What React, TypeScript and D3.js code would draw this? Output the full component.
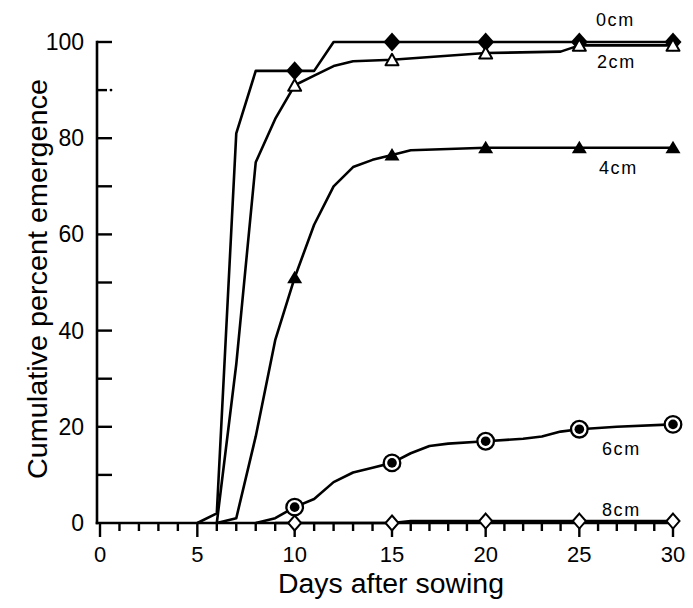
import React from "react";
import * as d3 from "d3";

// Cumulative emergence (%) by days after sowing, for five sowing depths.
const DAYS_0CM = [5, 6, 7, 8, 10, 11, 12, 15, 20, 25, 30];
const PCT_0CM = [0, 2, 81, 94, 94, 94, 100, 100, 100, 100, 100];

const DAYS_2CM = [6, 7, 8, 9, 10, 11, 12, 13, 15, 20, 24, 25, 30];
const PCT_2CM = [0, 33, 75, 84, 91, 93, 95, 96, 96.3, 97.7, 98, 99.3, 99.3];

const DAYS_4CM = [6, 7, 8, 9, 10, 11, 12, 13, 14, 15, 16, 20, 25, 30];
const PCT_4CM = [0, 1, 18, 38, 51, 62, 70, 74, 75.5, 76.5, 77.5, 78, 78, 78];

const DAYS_6CM = [8, 9, 10, 11, 12, 13, 14, 15, 16, 17, 18, 20, 22, 23, 24, 25, 27, 30];
const PCT_6CM = [0, 1, 3.3, 5, 8.5, 10.5, 11.5, 12.5, 14.5, 16, 16.5, 17, 17.5, 18, 19, 19.5, 20, 20.5];

const DAYS_8CM = [9, 10, 15, 16, 20, 25, 30];
const PCT_8CM = [0, 0, 0, 0.4, 0.4, 0.4, 0.4];

const DEPTH_LABELS = ["0cm", "2cm", "4cm", "6cm", "8cm"];
const MARKER_DAYS = [10, 15, 20, 25, 30];

const X_TICK_LABELS = [0, 5, 10, 15, 20, 25, 30];
const Y_TICK_LABELS = [0, 20, 40, 60, 80, 100];

const X_TITLE = "Days after sowing";
const Y_TITLE = "Cumulative percent emergence";

type MarkerKind = "diamondFilled" | "triangleOpen" | "triangleFilled" | "ringDot" | "diamondOpen";

const SERIES = [
  { label: DEPTH_LABELS[0], days: DAYS_0CM, pct: PCT_0CM, marker: "diamondFilled" as MarkerKind },
  { label: DEPTH_LABELS[1], days: DAYS_2CM, pct: PCT_2CM, marker: "triangleOpen" as MarkerKind },
  { label: DEPTH_LABELS[2], days: DAYS_4CM, pct: PCT_4CM, marker: "triangleFilled" as MarkerKind },
  { label: DEPTH_LABELS[3], days: DAYS_6CM, pct: PCT_6CM, marker: "ringDot" as MarkerKind },
  { label: DEPTH_LABELS[4], days: DAYS_8CM, pct: PCT_8CM, marker: "diamondOpen" as MarkerKind },
];

// Where each depth label sits (left edge, vertical centre) in pixels.
const LABEL_POS: Record<string, [number, number]> = {
  "0cm": [596, 19],
  "2cm": [597, 61],
  "4cm": [599, 167],
  "6cm": [602, 448],
  "8cm": [602, 509],
};

const W = 693;
const H = 608;
const FONT = "'Liberation Sans', Arial, Helvetica, sans-serif";
const INK = "#000";

const x = d3.scaleLinear().domain([0, 15, 30]).range([100, 392, 673]);
const y = d3.scaleLinear().domain([0, 100]).range([523, 42]);

const line = d3
  .line<[number, number]>()
  .x((d) => x(d[0]))
  .y((d) => y(d[1]));

function Marker({ kind, cx, cy }: { kind: MarkerKind; cx: number; cy: number }) {
  switch (kind) {
    case "diamondFilled":
      return (
        <path
          d={`M${cx},${cy - 9.5} L${cx + 8.5},${cy} L${cx},${cy + 9.5} L${cx - 8.5},${cy} Z`}
          fill={INK}
        />
      );
    case "diamondOpen":
      return (
        <path
          d={`M${cx},${cy - 7.5} L${cx + 6.5},${cy} L${cx},${cy + 7.5} L${cx - 6.5},${cy} Z`}
          fill="#fff"
          stroke={INK}
          strokeWidth={2}
        />
      );
    case "triangleOpen":
      return (
        <path
          d={`M${cx},${cy - 6} L${cx + 6.5},${cy + 5.5} L${cx - 6.5},${cy + 5.5} Z`}
          fill="#fff"
          stroke={INK}
          strokeWidth={2}
          strokeLinejoin="round"
        />
      );
    case "triangleFilled":
      return (
        <path d={`M${cx},${cy - 7} L${cx + 7.5},${cy + 5.5} L${cx - 7.5},${cy + 5.5} Z`} fill={INK} />
      );
    case "ringDot":
      return (
        <g>
          <circle cx={cx} cy={cy} r={8.3} fill="#fff" stroke={INK} strokeWidth={2.3} />
          <circle cx={cx} cy={cy} r={4.8} fill={INK} />
        </g>
      );
  }
  return null;
}

export default function App() {
  const xMinor = d3.range(0, 31, 1);
  const yTicks = d3.range(10, 101, 10);
  const x0 = x(0) - 3;
  const yBase = y(0);

  return (
    <svg
      width={W}
      height={H}
      viewBox={`0 0 ${W} ${H}`}
      style={{ position: "absolute", left: 0, top: 0, background: "#fff" }}
      fontFamily={FONT}
    >
      <rect width={W} height={H} fill="#fff" />

      {/* axes */}
      <g stroke={INK} strokeWidth={2.6} fill="none" strokeLinecap="square">
        <line x1={x0} y1={y(100)} x2={x0} y2={yBase} />
        <line x1={x0} y1={yBase} x2={x(30) + 2} y2={yBase} />
      </g>

      {/* y ticks point inward */}
      <g stroke={INK} strokeWidth={2.4}>
        {yTicks.map((v) => (
          <line key={v} x1={x0} x2={x0 + (v === 90 ? 10 : 15)} y1={y(v)} y2={y(v)} />
        ))}
        <circle cx={x0 + 14} cy={y(90)} r={1.4} fill={INK} stroke="none" />
      </g>

      {/* x ticks point outward */}
      <g stroke={INK} strokeWidth={2.4}>
        {xMinor.map((d) => (
          <line key={d} x1={x(d)} x2={x(d)} y1={yBase} y2={yBase + (d % 5 === 0 ? 14 : 8)} />
        ))}
      </g>

      {/* tick labels */}
      <g fontSize={22} fill={INK}>
        {X_TICK_LABELS.map((d) => (
          <text key={d} x={x(d)} y={562} textAnchor="middle">
            {d}
          </text>
        ))}
        {Y_TICK_LABELS.map((v) => (
          <text key={v} x={84} y={y(v) + 8} textAnchor="end" fontSize={23}>
            {v}
          </text>
        ))}
      </g>

      {/* axis titles */}
      <text x={391} y={593} fontSize={27} textAnchor="middle" fill={INK} textLength={226} lengthAdjust="spacingAndGlyphs">
        {X_TITLE}
      </text>
      <text
        transform="translate(47,279) rotate(-90)"
        fontSize={28}
        textAnchor="middle"
        fill={INK}
        textLength={400}
        lengthAdjust="spacingAndGlyphs"
      >
        {Y_TITLE}
      </text>

      {/* emergence curves */}
      <g fill="none" stroke={INK} strokeWidth={2.6} strokeLinejoin="round">
        {SERIES.map((s) => (
          <path key={s.label} d={line(s.days.map((d, i) => [d, s.pct[i]] as [number, number])) || ""} />
        ))}
      </g>

      {/* markers every five days */}
      <g>
        {SERIES.map((s) =>
          MARKER_DAYS.map((d) => {
            const i = s.days.indexOf(d);
            if (i < 0) return null;
            return <Marker key={`${s.label}-${d}`} kind={s.marker} cx={x(d)} cy={y(s.pct[i])} />;
          })
        )}
      </g>

      {/* depth labels */}
      <g fontSize={18} fill={INK}>
        {SERIES.map((s) => {
          const [lx, ly] = LABEL_POS[s.label];
          return (
            <text key={s.label} x={lx} y={ly + 6.5} letterSpacing={1.6}>
              {s.label}
            </text>
          );
        })}
      </g>
    </svg>
  );
}
